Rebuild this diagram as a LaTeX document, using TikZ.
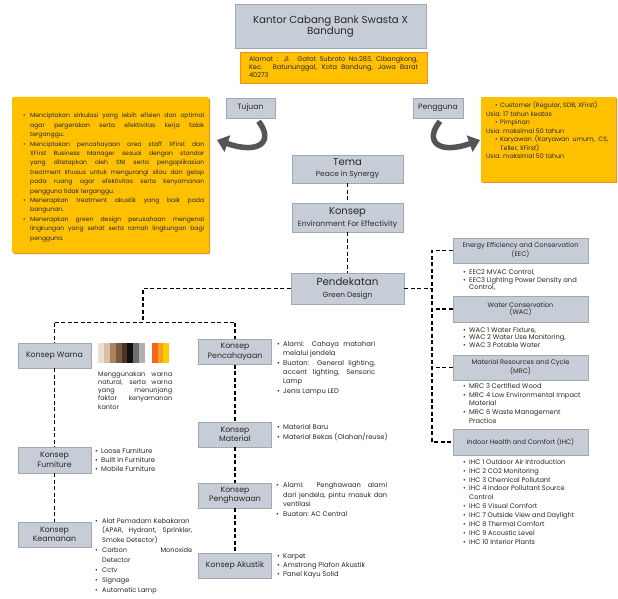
\documentclass[tikz,border=0pt]{standalone}
\usepackage{fontspec}
\setmainfont{Poppins}
\usetikzlibrary{arrows.meta,shadows}
\definecolor{boxgray}{RGB}{199,205,214}
\definecolor{boxedge}{RGB}{160,168,178}
\definecolor{shad}{RGB}{140,148,158}
\definecolor{ylw}{RGB}{255,192,0}
\definecolor{org}{RGB}{242,140,40}
\definecolor{txt}{RGB}{40,40,40}
\definecolor{arr}{RGB}{85,85,85}
\definecolor{s1}{HTML}{EDE0D0}
\definecolor{s2}{HTML}{D8C0A4}
\definecolor{s3}{HTML}{A88463}
\definecolor{s4}{HTML}{7B5A3F}
\definecolor{s5}{HTML}{4B3424}
\definecolor{s6}{HTML}{111111}
\definecolor{s7}{HTML}{6F6F6F}
\definecolor{s8}{HTML}{B0B0B0}
\definecolor{o1}{HTML}{F4661B}
\definecolor{o2}{HTML}{F9A11B}
\definecolor{o3}{HTML}{FFCC00}
\newlength\bind \newlength\tw
\newcommand\Bu{\makebox[\bind][l]{\textbullet}}
\newcommand\Bj[1]{\Bu\makebox[\tw][s]{#1}}
\newcommand\Bn[1]{\Bu #1}
\newcommand\Cj[1]{\hspace*{\bind}\makebox[\tw][s]{#1}}
\newcommand\Cn[1]{\hspace*{\bind}#1}
\newcommand\Jj[1]{\makebox[\tw][s]{#1}}
\newcommand\fs[2]{\fontsize{#1}{#2}\selectfont}
\tikzset{
  gbox/.style={draw=boxedge, line width=0.5pt, fill=boxgray, inner sep=0pt, align=center, text=txt,
     drop shadow={shadow xshift=0.8pt, shadow yshift=-0.8pt, fill=shad, opacity=1}},
  ybox/.style={fill=ylw, inner sep=0pt, drop shadow={shadow xshift=1.2pt, shadow yshift=-1.2pt, fill=org, opacity=1}},
  lst/.style={anchor=north west, inner sep=0pt, align=left, text=txt},
  dline/.style={draw=black, line width=1.2pt, dash pattern=on 4pt off 2.5pt},
  bigarr/.style={draw=arr, line width=5.5pt, -{Triangle[length=11pt,width=17pt]}},
  kbox/.style={gbox, minimum width=73pt, minimum height=25pt, font={\fs{7.8}{9.5}}},
  rbox/.style={gbox, minimum width=135pt, minimum height=25pt, font={\fs{6.6}{7.6}}},
}
\begin{document}
\begin{tikzpicture}[x=1pt,y=-1pt]
\fill[white] (0,0) rectangle (618,599);
\useasboundingbox (0,0) rectangle (618,599);

% title and address
\node[gbox, minimum width=191pt, minimum height=44pt, font={\fs{10.2}{11.5}}] (title) at (330.5,26.5) {Kantor Cabang Bank Swasta X\\Bandung};
\node[ybox, draw=org, line width=0.8pt, minimum width=187pt, minimum height=31pt, align=left, text=txt, font={\fs{6.6}{8}\setlength\tw{169pt}}] (addr) at (333.5,67.5) {\Jj{Alamat : Jl. Gatot Subroto No.283, Cibangkong,}\\\Jj{Kec. Batununggal, Kota Bandung, Jawa Barat}\\40273};

% tujuan / pengguna
\node[gbox, minimum width=49pt, minimum height=20pt, font={\fs{7.7}{9}}] (tujuan) at (250.5,108) {Tujuan};
\node[gbox, minimum width=50pt, minimum height=20pt, font={\fs{7.7}{9}}] (pengguna) at (438,108) {Pengguna};

% left yellow box
\node[ybox, minimum width=197pt, minimum height=156pt, rounded corners=1.5pt] (tujuanbox) at (110.5,175) {};
\node[lst, font={\fs{6.1}{9.4}\setlength\bind{7pt}\setlength\tw{174pt}}] (tujuantext) at (23,113) {%
\Bj{Menciptakan sirkulasi yang lebih efisien dan optimal}\\
\Cj{agar pergerakan serta efektivitas kerja tidak}\\
\Cn{terganggu.}\\
\Bj{Menciptakan pencahayaan area staff XFirst dan}\\
\Cj{XFirst Business Manager sesuai dengan standar}\\
\Cj{yang ditetapkan oleh SNI serta pengaplikasian}\\
\Cj{treatment khusus untuk mengurangi silau dan gelap}\\
\Cj{pada ruang agar efektivitas serta kenyamanan}\\
\Cn{pengguna tidak terganggu.}\\
\Bj{Menerapkan treatment akustik yang baik pada}\\
\Cn{bangunan.}\\
\Bj{Menerapkan green design perusahaan mengenai}\\
\Cj{lingkungan yang sehat serta ramah lingkungan bagi}\\
\Cn{pengguna.}};

% right yellow box
\node[ybox, minimum width=135pt, minimum height=85pt] (penggunabox) at (548.5,139.5) {};
\node[lst, font={\fs{6.3}{8.5}\setlength\bind{5pt}\setlength\tw{108pt}}] (penggunatext) at (486,101.5) {%
\hspace*{9pt}\Bn{Customer (Regular, SDB, XFirst)}\\
Usia: 17 tahun keatas\\
\hspace*{9pt}\Bn{Pimpinan}\\
Usia: maksimal 50 tahun\\
\hspace*{9pt}\Bj{Karyawan (Karyawan umum, CS,}\\
\hspace*{9pt}\Cn{Teller, XFirst)}\\
Usia: maksimal 50 tahun};

% curved arrows
\coordinate (tl) at (217,140);
\coordinate (pr) at (480,140);
\draw[bigarr] ([xshift=8pt,yshift=-3pt]tujuan.south) .. controls (274,141) and (260,155) .. (tl);
\draw[bigarr] ([xshift=2pt,yshift=-3pt]pengguna.south) .. controls (424,141) and (438,155) .. (pr);

% central column
\node[gbox, minimum width=111pt, minimum height=28pt, font={\fs{10}{11}}] (tema) at (347.5,169) {Tema\\{\fs{7.4}{8}Peace in Synergy}};
\node[gbox, minimum width=111pt, minimum height=29pt, font={\fs{10}{12}}] (konsep) at (347.5,217.5) {Konsep\\{\fs{7.6}{8}Environment For Effectivity}};
\node[gbox, minimum width=113pt, minimum height=31pt, font={\fs{10.3}{12.5}}] (pendekatan) at (347.5,288.5) {Pendekatan\\{\fs{7.4}{8}Green Design}};

% right column boxes
\node[rbox] (eec) at (520.5,250.5) {Energy Efficiency and Conservation\\(EEC)};
\node[rbox, minimum height=26pt] (wac) at (520.5,309) {Water Conservation\\(WAC)};
\node[rbox] (mrc) at (520.5,367.5) {Material Resources and Cycle\\(MRC)};
\node[rbox, minimum height=26pt] (ihc) at (520.5,442) {Indoor Health and Comfort (IHC)};

\node[lst, font={\fs{6.7}{7.6}\setlength\bind{6pt}}] (eeclist) at (463,269.5) {\Bn{EEC2 MVAC Control,}\\\Bn{EEC3 Lighting Power Density and}\\\Cn{Control,}};
\node[lst, font={\fs{6.7}{7.6}\setlength\bind{6pt}}] (waclist) at (463,327) {\Bn{WAC 1 Water Fixture,}\\\Bn{WAC 2 Water Use Monitoring,}\\\Bn{WAC 3 Potable Water}};
\node[lst, font={\fs{6.7}{8.75}\setlength\bind{6pt}}] (mrclist) at (463,383) {\Bn{MRC 3 Certified Wood}\\\Bn{MRC 4 Low Environmental Impact}\\\Cn{Material}\\\Bn{MRC 6 Waste Management}\\\Cn{Practice}};
\node[lst, font={\fs{6.6}{8.9}\setlength\bind{6pt}}] (ihclist) at (463,459) {\Bn{IHC 1 Outdoor Air Introduction}\\\Bn{IHC 2 CO2 Monitoring}\\\Bn{IHC 3 Chemical Pollutant}\\\Bn{IHC 4 Indoor Pollutant Source}\\\Cn{Control}\\\Bn{IHC 6 Visual Comfort}\\\Bn{IHC 7 Outside View and Daylight}\\\Bn{IHC 8 Thermal Comfort}\\\Bn{IHC 9 Acoustic Level}\\\Bn{IHC 10 Interior Plants}};

% left concept boxes
\node[kbox] (warna) at (54.5,355.5) {Konsep Warna};
\node[kbox, minimum height=26pt] (furniture) at (54.5,460) {Konsep\\Furniture};
\node[kbox] (keamanan) at (54.5,534.5) {Konsep\\Keamanan};
\node[kbox] (pencahayaan) at (235,352) {Konsep\\Pencahayaan};
\node[kbox] (material) at (235,434.5) {Konsep\\Material};
\node[kbox] (penghawaan) at (235,495.5) {Konsep\\Penghawaan};
\node[kbox] (akustik) at (235,565.5) {Konsep Akustik};

% colour swatches
\foreach \c [count=\i from 0] in {s1,s2,s3,s4,s5,s6,s7,s8}
  \fill[\c] (98+5.875*\i,343) rectangle (98+5.875*\i+5.875,363);
\foreach \c [count=\i from 0] in {o1,o2,o3}
  \fill[\c] (152+5.667*\i,343) rectangle (152+5.667*\i+5.667,363);

% left lists
\node[lst, font={\fs{6.5}{8.3}\setlength\tw{74pt}}] (warnatext) at (98,371) {\Jj{Menggunakan warna}\\\Jj{natural, serta warna}\\\Jj{yang menunjang}\\\Jj{faktor kenyamanan}\\kantor};
\node[lst, font={\fs{6.8}{9.4}\setlength\bind{6pt}\setlength\tw{92pt}}] (pencahayaantext) at (277,341) {\Bj{Alami: Cahaya matahari}\\\Cn{melalui jendela}\\\Bj{Buatan: General lighting,}\\\Cj{accent lighting, Sensoric}\\\Cn{Lamp}\\\Bn{Jenis Lampu LED}};
\node[lst, font={\fs{6.8}{10}\setlength\bind{6pt}}] (materialtext) at (277,424) {\Bn{Material Baru}\\\Bn{Material Bekas (Olahan/reuse)}};
\node[lst, font={\fs{6.7}{9.7}\setlength\bind{7pt}\setlength\tw{104pt}}] (penghawaantext) at (276,482) {\Bj{Alami: Penghawaan alami}\\\Cj{dari jendela, pintu masuk dan}\\\Cn{ventilasi}\\\Bn{Buatan: AC Central}};
\node[lst, font={\fs{6.8}{9}\setlength\bind{6pt}}] (akustiktext) at (277,554) {\Bn{Karpet}\\\Bn{Amstrong Plafon Akustik}\\\Bn{Panel Kayu Solid}};
\node[lst, font={\fs{6.8}{9}\setlength\bind{6pt}}] (furnituretext) at (95,448) {\Bn{Loose Furniture}\\\Bn{Built In Furniture}\\\Bn{Mobile Furniture}};
\node[lst, font={\fs{6.6}{9.9}\setlength\bind{7pt}\setlength\tw{90pt}}] (keamanantext) at (95,518) {\Bn{Alat Pemadam Kebakaran}\\\Cj{(APAR, Hydrant, Sprinkler,}\\\Cn{Smoke Detector)}\\\Bj{Carbon Monoxide}\\\Cn{Detector}\\\Bn{Cctv}\\\Bn{Signage}\\\Bn{Autometic Lamp}};

% connectors
\draw[dline] (tema.south) -- (konsep.north);
\draw[dline] (konsep.south) -- (pendekatan.north);
\coordinate (tee) at (143,322.5);
\coordinate (lc) at (54.5,322.5);
\coordinate (rc) at (235,322.5);
\draw[dline] (pendekatan.west) -| (tee);
\draw[dline] (lc) -- (rc);
\draw[dline] (lc) -- (warna.north);
\draw[dline] (warna.south) -- (furniture.north);
\draw[dline] (furniture.south) -- (keamanan.north);
\draw[dline] (rc) -- (pencahayaan.north);
\draw[dline] (pencahayaan.south) -- (material.north);
\draw[dline] (material.south) -- (penghawaan.north);
\draw[dline] (penghawaan.south) -- (akustik.north);
\coordinate (rtop) at (432,250.5);
\coordinate (rbot) at (432,442);
\draw[dline] (eec.west) -- (rtop) -- (rbot) -- (ihc.west);
\draw[dline] (pendekatan.east) -- (pendekatan.east -| rtop);
\draw[dline] (wac.west) -- (wac.west -| rtop);
\draw[dline] (mrc.west) -- (mrc.west -| rtop);
\end{tikzpicture}
\end{document}
